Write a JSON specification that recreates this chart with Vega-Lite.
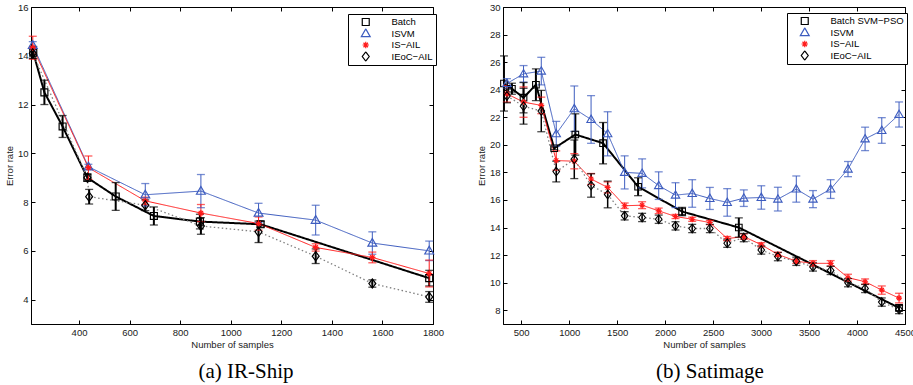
{
  "$schema": "https://vega.github.io/schema/vega-lite/v6.json",
  "background": "white",
  "padding": {"left": 3, "top": 1, "right": 0, "bottom": 0},
  "spacing": 70,
  "bounds": "flush",
  "resolve": {"scale": {"color": "independent", "shape": "independent", "stroke": "independent", "strokeDash": "independent", "strokeWidth": "independent", "size": "independent"}},
  "datasets": {
    "ir": [
      {"m": "Batch", "n": 219, "y": 14.13, "lo": 13.88, "hi": 14.38},
      {"m": "Batch", "n": 263, "y": 12.5, "lo": 12.0, "hi": 13.0},
      {"m": "Batch", "n": 335, "y": 11.1, "lo": 10.65, "hi": 11.55},
      {"m": "Batch", "n": 433, "y": 9.0, "lo": 8.85, "hi": 9.15},
      {"m": "Batch", "n": 545, "y": 8.23, "lo": 7.66, "hi": 8.8},
      {"m": "Batch", "n": 696, "y": 7.43, "lo": 7.06, "hi": 7.8},
      {"m": "Batch", "n": 878, "y": 7.2, "lo": 6.9, "hi": 7.5},
      {"m": "Batch", "n": 1118, "y": 7.09, "lo": 6.97, "hi": 7.21},
      {"m": "Batch", "n": 1785, "y": 4.88, "lo": 4.56, "hi": 5.2},
      {"m": "ISVM", "n": 217, "y": 14.43, "lo": 14.28, "hi": 14.58},
      {"m": "ISVM", "n": 437, "y": 9.45, "lo": 9.35, "hi": 9.55},
      {"m": "ISVM", "n": 662, "y": 8.3, "lo": 7.84, "hi": 8.76},
      {"m": "ISVM", "n": 882, "y": 8.45, "lo": 7.77, "hi": 9.13},
      {"m": "ISVM", "n": 1110, "y": 7.55, "lo": 7.15, "hi": 7.95},
      {"m": "ISVM", "n": 1336, "y": 7.26, "lo": 6.65, "hi": 7.87},
      {"m": "ISVM", "n": 1560, "y": 6.32, "lo": 5.86, "hi": 6.78},
      {"m": "ISVM", "n": 1785, "y": 6.0, "lo": 5.6, "hi": 6.4},
      {"m": "IS-AIL", "n": 217, "y": 14.33, "lo": 13.86, "hi": 14.8},
      {"m": "IS-AIL", "n": 437, "y": 9.41, "lo": 8.93, "hi": 9.89},
      {"m": "IS-AIL", "n": 662, "y": 8.05, "lo": 7.9, "hi": 8.2},
      {"m": "IS-AIL", "n": 882, "y": 7.55, "lo": 7.2, "hi": 7.9},
      {"m": "IS-AIL", "n": 1110, "y": 7.12, "lo": 6.85, "hi": 7.39},
      {"m": "IS-AIL", "n": 1336, "y": 6.14, "lo": 5.99, "hi": 6.29},
      {"m": "IS-AIL", "n": 1560, "y": 5.73, "lo": 5.51, "hi": 5.95},
      {"m": "IS-AIL", "n": 1785, "y": 5.07, "lo": 4.52, "hi": 5.62},
      {"m": "IEoC-AIL", "n": 217, "y": 14.1, "lo": 13.9, "hi": 14.3},
      {"m": "IEoC-AIL", "n": 433, "y": 9.0, "lo": null, "hi": null},
      {"m": "IEoC-AIL", "n": 440, "y": 8.22, "lo": 7.92, "hi": 8.52},
      {"m": "IEoC-AIL", "n": 662, "y": 7.87, "lo": 7.65, "hi": 8.09},
      {"m": "IEoC-AIL", "n": 882, "y": 7.02, "lo": 6.68, "hi": 7.36},
      {"m": "IEoC-AIL", "n": 1110, "y": 6.78, "lo": 6.34, "hi": 7.22},
      {"m": "IEoC-AIL", "n": 1336, "y": 5.78, "lo": 5.48, "hi": 6.08},
      {"m": "IEoC-AIL", "n": 1560, "y": 4.66, "lo": 4.51, "hi": 4.81},
      {"m": "IEoC-AIL", "n": 1785, "y": 4.11, "lo": 3.89, "hi": 4.33}
    ],
    "sat": [
      {"m": "Batch SVM-PSO", "n": 320, "y": 24.45, "lo": 22.45, "hi": 26.45},
      {"m": "Batch SVM-PSO", "n": 403, "y": 24.07, "lo": 23.67, "hi": 24.47},
      {"m": "Batch SVM-PSO", "n": 524, "y": 23.42, "lo": 22.32, "hi": 24.52},
      {"m": "Batch SVM-PSO", "n": 653, "y": 24.36, "lo": 23.21, "hi": 25.51},
      {"m": "Batch SVM-PSO", "n": 844, "y": 19.75, "lo": 19.65, "hi": 19.85},
      {"m": "Batch SVM-PSO", "n": 1064, "y": 20.75, "lo": 19.25, "hi": 22.25},
      {"m": "Batch SVM-PSO", "n": 1353, "y": 20.12, "lo": 18.62, "hi": 21.62},
      {"m": "Batch SVM-PSO", "n": 1718, "y": 16.96, "lo": 16.31, "hi": 17.61},
      {"m": "Batch SVM-PSO", "n": 2177, "y": 15.16, "lo": 14.86, "hi": 15.46},
      {"m": "Batch SVM-PSO", "n": 2768, "y": 14.0, "lo": 13.3, "hi": 14.7},
      {"m": "Batch SVM-PSO", "n": 4438, "y": 8.17, "lo": 7.97, "hi": 8.37},
      {"m": "ISVM", "n": 351, "y": 24.45, "lo": 24.1, "hi": 24.8},
      {"m": "ISVM", "n": 524, "y": 25.15, "lo": 24.55, "hi": 25.75},
      {"m": "ISVM", "n": 709, "y": 25.35, "lo": 24.35, "hi": 26.35},
      {"m": "ISVM", "n": 865, "y": 20.8, "lo": 19.9, "hi": 21.7},
      {"m": "ISVM", "n": 1053, "y": 22.62, "lo": 20.97, "hi": 24.27},
      {"m": "ISVM", "n": 1228, "y": 21.84, "lo": 20.11, "hi": 23.57},
      {"m": "ISVM", "n": 1401, "y": 20.8, "lo": 19.2, "hi": 22.4},
      {"m": "ISVM", "n": 1578, "y": 18.0, "lo": 16.8, "hi": 19.2},
      {"m": "ISVM", "n": 1760, "y": 17.93, "lo": 16.88, "hi": 18.98},
      {"m": "ISVM", "n": 1933, "y": 17.04, "lo": 16.04, "hi": 18.04},
      {"m": "ISVM", "n": 2108, "y": 16.35, "lo": 15.45, "hi": 17.25},
      {"m": "ISVM", "n": 2282, "y": 16.47, "lo": 15.47, "hi": 17.47},
      {"m": "ISVM", "n": 2466, "y": 16.11, "lo": 15.31, "hi": 16.91},
      {"m": "ISVM", "n": 2647, "y": 15.82, "lo": 14.82, "hi": 16.82},
      {"m": "ISVM", "n": 2820, "y": 16.13, "lo": 15.53, "hi": 16.73},
      {"m": "ISVM", "n": 3002, "y": 16.18, "lo": 15.33, "hi": 17.03},
      {"m": "ISVM", "n": 3175, "y": 16.06, "lo": 15.2, "hi": 16.92},
      {"m": "ISVM", "n": 3367, "y": 16.79, "lo": 15.84, "hi": 17.74},
      {"m": "ISVM", "n": 3541, "y": 16.06, "lo": 15.44, "hi": 16.68},
      {"m": "ISVM", "n": 3725, "y": 16.79, "lo": 16.11, "hi": 17.47},
      {"m": "ISVM", "n": 3906, "y": 18.24, "lo": 17.69, "hi": 18.79},
      {"m": "ISVM", "n": 4084, "y": 20.43, "lo": 19.58, "hi": 21.28},
      {"m": "ISVM", "n": 4258, "y": 21.04, "lo": 20.11, "hi": 21.97},
      {"m": "ISVM", "n": 4438, "y": 22.2, "lo": 21.29, "hi": 23.11},
      {"m": "IS-AIL", "n": 351, "y": 23.7, "lo": 23.1, "hi": 24.3},
      {"m": "IS-AIL", "n": 524, "y": 23.1, "lo": 22.0, "hi": 24.2},
      {"m": "IS-AIL", "n": 709, "y": 22.86, "lo": 22.26, "hi": 23.46},
      {"m": "IS-AIL", "n": 865, "y": 18.86, "lo": 18.16, "hi": 19.56},
      {"m": "IS-AIL", "n": 1053, "y": 18.81, "lo": 18.26, "hi": 19.36},
      {"m": "IS-AIL", "n": 1228, "y": 17.52, "lo": 17.12, "hi": 17.92},
      {"m": "IS-AIL", "n": 1401, "y": 16.91, "lo": 16.51, "hi": 17.31},
      {"m": "IS-AIL", "n": 1578, "y": 15.58, "lo": 15.38, "hi": 15.78},
      {"m": "IS-AIL", "n": 1760, "y": 15.62, "lo": 15.37, "hi": 15.87},
      {"m": "IS-AIL", "n": 1933, "y": 15.21, "lo": 15.01, "hi": 15.41},
      {"m": "IS-AIL", "n": 2108, "y": 14.8, "lo": 14.65, "hi": 14.95},
      {"m": "IS-AIL", "n": 2282, "y": 14.6, "lo": 14.45, "hi": 14.75},
      {"m": "IS-AIL", "n": 2466, "y": 14.36, "lo": 14.21, "hi": 14.51},
      {"m": "IS-AIL", "n": 2647, "y": 13.2, "lo": 13.05, "hi": 13.35},
      {"m": "IS-AIL", "n": 2820, "y": 13.34, "lo": 13.14, "hi": 13.54},
      {"m": "IS-AIL", "n": 3002, "y": 12.75, "lo": 12.6, "hi": 12.9},
      {"m": "IS-AIL", "n": 3175, "y": 12.05, "lo": 11.9, "hi": 12.2},
      {"m": "IS-AIL", "n": 3367, "y": 11.55, "lo": 11.4, "hi": 11.7},
      {"m": "IS-AIL", "n": 3541, "y": 11.4, "lo": 11.2, "hi": 11.6},
      {"m": "IS-AIL", "n": 3725, "y": 11.4, "lo": 11.2, "hi": 11.6},
      {"m": "IS-AIL", "n": 3906, "y": 10.36, "lo": 10.11, "hi": 10.61},
      {"m": "IS-AIL", "n": 4084, "y": 10.07, "lo": 9.87, "hi": 10.27},
      {"m": "IS-AIL", "n": 4258, "y": 9.46, "lo": 9.16, "hi": 9.76},
      {"m": "IS-AIL", "n": 4438, "y": 8.88, "lo": 8.53, "hi": 9.23},
      {"m": "IEoC-AIL", "n": 351, "y": 23.55, "lo": 23.05, "hi": 24.05},
      {"m": "IEoC-AIL", "n": 524, "y": 22.8, "lo": 21.5, "hi": 24.1},
      {"m": "IEoC-AIL", "n": 709, "y": 22.45, "lo": 20.95, "hi": 23.95},
      {"m": "IEoC-AIL", "n": 865, "y": 18.06, "lo": 17.31, "hi": 18.81},
      {"m": "IEoC-AIL", "n": 1053, "y": 18.95, "lo": 17.55, "hi": 20.35},
      {"m": "IEoC-AIL", "n": 1228, "y": 17.05, "lo": 16.2, "hi": 17.9},
      {"m": "IEoC-AIL", "n": 1401, "y": 16.4, "lo": 15.43, "hi": 17.37},
      {"m": "IEoC-AIL", "n": 1578, "y": 14.85, "lo": 14.55, "hi": 15.15},
      {"m": "IEoC-AIL", "n": 1760, "y": 14.73, "lo": 14.43, "hi": 15.03},
      {"m": "IEoC-AIL", "n": 1933, "y": 14.6, "lo": 14.3, "hi": 14.9},
      {"m": "IEoC-AIL", "n": 2108, "y": 14.12, "lo": 13.82, "hi": 14.42},
      {"m": "IEoC-AIL", "n": 2282, "y": 13.93, "lo": 13.63, "hi": 14.23},
      {"m": "IEoC-AIL", "n": 2466, "y": 13.93, "lo": 13.63, "hi": 14.23},
      {"m": "IEoC-AIL", "n": 2647, "y": 12.86, "lo": 12.56, "hi": 13.16},
      {"m": "IEoC-AIL", "n": 2820, "y": 13.27, "lo": 12.97, "hi": 13.57},
      {"m": "IEoC-AIL", "n": 3002, "y": 12.37, "lo": 12.07, "hi": 12.67},
      {"m": "IEoC-AIL", "n": 3175, "y": 11.89, "lo": 11.59, "hi": 12.19},
      {"m": "IEoC-AIL", "n": 3367, "y": 11.55, "lo": 11.25, "hi": 11.85},
      {"m": "IEoC-AIL", "n": 3541, "y": 11.14, "lo": 10.84, "hi": 11.44},
      {"m": "IEoC-AIL", "n": 3725, "y": 10.89, "lo": 10.59, "hi": 11.19},
      {"m": "IEoC-AIL", "n": 3906, "y": 10.0, "lo": 9.7, "hi": 10.3},
      {"m": "IEoC-AIL", "n": 4084, "y": 9.58, "lo": 9.28, "hi": 9.88},
      {"m": "IEoC-AIL", "n": 4258, "y": 8.59, "lo": 8.29, "hi": 8.89},
      {"m": "IEoC-AIL", "n": 4438, "y": 8.05, "lo": 7.75, "hi": 8.35}
    ]
  },
  "hconcat": [
    {
      "width": 402,
      "height": 317,
      "data": {"name": "ir"},
      "title": {"text": "(a) IR-Ship", "orient": "bottom", "anchor": "middle", "dx": 14, "offset": 12, "font": "Liberation Serif", "fontSize": 21, "fontWeight": "normal", "color": "black"},
      "resolve": {"axis": {"x": "independent", "y": "independent"}, "scale": {"color": "independent", "shape": "independent"}},
      "layer": [
        {
          "mark": {"type": "line"},
          "encoding": {
            "x": {"field": "n", "type": "quantitative", "scale": {"domain": [210, 1800], "nice": false, "zero": false}, "axis": {"orient": "bottom", "format": "d", "values": [400, 600, 800, 1000, 1200, 1400, 1600, 1800], "title": "Number of samples"}},
            "y": {"field": "y", "type": "quantitative", "scale": {"domain": [3, 16], "nice": false, "zero": false}, "axis": {"orient": "left", "format": "d", "values": [4, 6, 8, 10, 12, 14, 16], "title": "Error rate"}},
            "stroke": {"field": "m", "type": "nominal", "scale": {"domain": ["ISVM", "Batch", "IS-AIL", "IEoC-AIL"], "range": ["#3d5cbf", "#000000", "#ff1a1a", "#808080"]}, "legend": null},
            "strokeDash": {"field": "m", "type": "nominal", "scale": {"domain": ["IS-AIL", "Batch", "ISVM", "IEoC-AIL"], "range": [[1, 0], [1, 0], [1, 0], [1.5, 2.5]]}, "legend": null},
            "strokeWidth": {"field": "m", "type": "nominal", "scale": {"type": "ordinal", "domain": ["IEoC-AIL", "Batch", "ISVM", "IS-AIL"], "range": [1.3, 2, 1, 1]}, "legend": null}
          }
        },
        {
          "mark": {"type": "rule"},
          "encoding": {
            "x": {"field": "n", "type": "quantitative", "axis": {"orient": "top", "values": [400, 600, 800, 1000, 1200, 1400, 1600, 1800], "labels": false, "title": null, "domain": false}},
            "y": {"field": "lo", "type": "quantitative", "axis": {"orient": "right", "values": [4, 6, 8, 10, 12, 14, 16], "labels": false, "title": null, "domain": false}},
            "y2": {"field": "hi"},
            "color": {"field": "m", "type": "nominal", "scale": {"domain": ["ISVM", "Batch", "IS-AIL", "IEoC-AIL"], "range": ["#3d5cbf", "#000000", "#ff1a1a", "#000000"]}, "legend": null},
            "size": {"field": "m", "type": "nominal", "scale": {"type": "ordinal", "domain": ["Batch", "IS-AIL", "ISVM", "IEoC-AIL"], "range": [2, 1, 1, 2]}, "legend": null}
          }
        },
        {
          "mark": {"type": "tick", "orient": "horizontal", "size": 8, "thickness": 1.3},
          "encoding": {
            "x": {"field": "n", "type": "quantitative", "axis": null},
            "y": {"field": "lo", "type": "quantitative", "axis": null},
            "color": {"field": "m", "type": "nominal", "scale": {"domain": ["ISVM", "Batch", "IS-AIL", "IEoC-AIL"], "range": ["#3d5cbf", "#000000", "#ff1a1a", "#000000"]}, "legend": null}
          }
        },
        {
          "mark": {"type": "tick", "orient": "horizontal", "size": 8, "thickness": 1.3},
          "encoding": {
            "x": {"field": "n", "type": "quantitative", "axis": null},
            "y": {"field": "hi", "type": "quantitative", "axis": null},
            "color": {"field": "m", "type": "nominal", "scale": {"domain": ["ISVM", "Batch", "IS-AIL", "IEoC-AIL"], "range": ["#3d5cbf", "#000000", "#ff1a1a", "#000000"]}, "legend": null}
          }
        },
        {
          "mark": {"type": "point", "filled": false, "size": 40, "strokeWidth": 1.2, "opacity": 1},
          "encoding": {
            "x": {"field": "n", "type": "quantitative", "axis": null},
            "y": {"field": "y", "type": "quantitative", "axis": null},
            "color": {"field": "m", "type": "nominal", "scale": {"domain": ["Batch", "ISVM", "IS-AIL", "IEoC-AIL"], "range": ["#000000", "#3d5cbf", "#ff1a1a", "#000000"]}, "legend": {"orient": "none", "legendX": 317, "legendY": 7, "title": null, "symbolSize": 40, "symbolOffset": 10, "symbolStrokeWidth": 1.2, "clipHeight": 10, "rowPadding": 1.5, "padding": 3, "strokeColor": "black", "fillColor": "white", "cornerRadius": 0, "labelFont": "Liberation Sans", "labelFontSize": 9.5, "labelColor": "black", "labelOffset": 21, "labelExpr": "replace(datum.label, '-', '\u2212')"}},
            "shape": {"field": "m", "type": "nominal", "scale": {"domain": ["Batch", "ISVM", "IS-AIL", "IEoC-AIL"], "range": ["M-1.1,-1.1H1.1V1.1H-1.1Z", "M0,-1.45L1.4,1H-1.4Z", "M-1,0H1M0,-1V1M-0.7,-0.7L0.7,0.7M-0.7,0.7L0.7,-0.7", "M0,-1.45L1.1,0L0,1.45L-1.1,0Z"]}, "legend": {"orient": "none", "legendX": 317, "legendY": 7, "title": null, "symbolSize": 40, "symbolOffset": 10, "symbolStrokeWidth": 1.2, "clipHeight": 10, "rowPadding": 1.5, "padding": 3, "strokeColor": "black", "fillColor": "white", "cornerRadius": 0, "labelFont": "Liberation Sans", "labelFontSize": 9.5, "labelColor": "black", "labelOffset": 21, "labelExpr": "replace(datum.label, '-', '\u2212')"}}
          }
        }
      ]
    },
    {
      "width": 402,
      "height": 317,
      "data": {"name": "sat"},
      "title": {"text": "(b) Satimage", "orient": "bottom", "anchor": "middle", "dx": 6, "offset": 12, "font": "Liberation Serif", "fontSize": 21, "fontWeight": "normal", "color": "black"},
      "resolve": {"axis": {"x": "independent", "y": "independent"}, "scale": {"color": "independent", "shape": "independent"}},
      "layer": [
        {
          "mark": {"type": "line"},
          "encoding": {
            "x": {"field": "n", "type": "quantitative", "scale": {"domain": [310, 4500], "nice": false, "zero": false}, "axis": {"orient": "bottom", "format": "d", "values": [500, 1000, 1500, 2000, 2500, 3000, 3500, 4000, 4500], "title": "Number of samples"}},
            "y": {"field": "y", "type": "quantitative", "scale": {"domain": [7, 30], "nice": false, "zero": false}, "axis": {"orient": "left", "format": "d", "values": [8, 10, 12, 14, 16, 18, 20, 22, 24, 26, 28, 30], "title": "Error rate"}},
            "stroke": {"field": "m", "type": "nominal", "scale": {"domain": ["ISVM", "Batch SVM-PSO", "IS-AIL", "IEoC-AIL"], "range": ["#3d5cbf", "#000000", "#ff1a1a", "#808080"]}, "legend": null},
            "strokeDash": {"field": "m", "type": "nominal", "scale": {"domain": ["IS-AIL", "Batch SVM-PSO", "ISVM", "IEoC-AIL"], "range": [[1, 0], [1, 0], [1, 0], [1.5, 2.5]]}, "legend": null},
            "strokeWidth": {"field": "m", "type": "nominal", "scale": {"type": "ordinal", "domain": ["IEoC-AIL", "Batch SVM-PSO", "ISVM", "IS-AIL"], "range": [1.3, 2, 1, 1]}, "legend": null}
          }
        },
        {
          "mark": {"type": "rule"},
          "encoding": {
            "x": {"field": "n", "type": "quantitative", "axis": {"orient": "top", "values": [500, 1000, 1500, 2000, 2500, 3000, 3500, 4000, 4500], "labels": false, "title": null, "domain": false}},
            "y": {"field": "lo", "type": "quantitative", "axis": {"orient": "right", "values": [8, 10, 12, 14, 16, 18, 20, 22, 24, 26, 28, 30], "labels": false, "title": null, "domain": false}},
            "y2": {"field": "hi"},
            "color": {"field": "m", "type": "nominal", "scale": {"domain": ["ISVM", "Batch SVM-PSO", "IS-AIL", "IEoC-AIL"], "range": ["#3d5cbf", "#000000", "#ff1a1a", "#000000"]}, "legend": null},
            "size": {"field": "m", "type": "nominal", "scale": {"type": "ordinal", "domain": ["Batch SVM-PSO", "IS-AIL", "ISVM", "IEoC-AIL"], "range": [2, 1, 1, 1.5]}, "legend": null}
          }
        },
        {
          "mark": {"type": "tick", "orient": "horizontal", "size": 8, "thickness": 1.3},
          "encoding": {
            "x": {"field": "n", "type": "quantitative", "axis": null},
            "y": {"field": "lo", "type": "quantitative", "axis": null},
            "color": {"field": "m", "type": "nominal", "scale": {"domain": ["ISVM", "Batch SVM-PSO", "IS-AIL", "IEoC-AIL"], "range": ["#3d5cbf", "#000000", "#ff1a1a", "#000000"]}, "legend": null}
          }
        },
        {
          "mark": {"type": "tick", "orient": "horizontal", "size": 8, "thickness": 1.3},
          "encoding": {
            "x": {"field": "n", "type": "quantitative", "axis": null},
            "y": {"field": "hi", "type": "quantitative", "axis": null},
            "color": {"field": "m", "type": "nominal", "scale": {"domain": ["ISVM", "Batch SVM-PSO", "IS-AIL", "IEoC-AIL"], "range": ["#3d5cbf", "#000000", "#ff1a1a", "#000000"]}, "legend": null}
          }
        },
        {
          "mark": {"type": "point", "filled": false, "size": 36, "strokeWidth": 1.1, "opacity": 1},
          "encoding": {
            "x": {"field": "n", "type": "quantitative", "axis": null},
            "y": {"field": "y", "type": "quantitative", "axis": null},
            "color": {"field": "m", "type": "nominal", "scale": {"domain": ["Batch SVM-PSO", "ISVM", "IS-AIL", "IEoC-AIL"], "range": ["#000000", "#3d5cbf", "#ff1a1a", "#000000"]}, "legend": {"orient": "none", "legendX": 284, "legendY": 6, "title": null, "symbolSize": 40, "symbolOffset": 10, "symbolStrokeWidth": 1.2, "clipHeight": 10, "rowPadding": 1.5, "padding": 3, "strokeColor": "black", "fillColor": "white", "cornerRadius": 0, "labelFont": "Liberation Sans", "labelFontSize": 9.5, "labelColor": "black", "labelOffset": 21, "labelExpr": "replace(datum.label, '-', '\u2212')"}},
            "shape": {"field": "m", "type": "nominal", "scale": {"domain": ["Batch SVM-PSO", "ISVM", "IS-AIL", "IEoC-AIL"], "range": ["M-1.1,-1.1H1.1V1.1H-1.1Z", "M0,-1.45L1.4,1H-1.4Z", "M-1,0H1M0,-1V1M-0.7,-0.7L0.7,0.7M-0.7,0.7L0.7,-0.7", "M0,-1.45L1.1,0L0,1.45L-1.1,0Z"]}, "legend": {"orient": "none", "legendX": 284, "legendY": 6, "title": null, "symbolSize": 40, "symbolOffset": 10, "symbolStrokeWidth": 1.2, "clipHeight": 10, "rowPadding": 1.5, "padding": 3, "strokeColor": "black", "fillColor": "white", "cornerRadius": 0, "labelFont": "Liberation Sans", "labelFontSize": 9.5, "labelColor": "black", "labelOffset": 21, "labelExpr": "replace(datum.label, '-', '\u2212')"}}
          }
        }
      ]
    }
  ],
  "config": {
    "font": "Liberation Sans",
    "view": {"stroke": "black", "strokeWidth": 1},
    "axis": {"grid": false, "tickSize": -4, "tickColor": "black", "tickWidth": 1, "domainColor": "black", "domainWidth": 1, "labelPadding": 7, "labelFlush": false, "labelOverlap": false, "labelFont": "Liberation Sans", "labelFontSize": 9.5, "labelColor": "#1a1a1a", "titleFont": "Liberation Sans", "titleFontSize": 9.5, "titleFontWeight": "normal", "titleColor": "#1a1a1a", "titlePadding": 3}
  }
}
